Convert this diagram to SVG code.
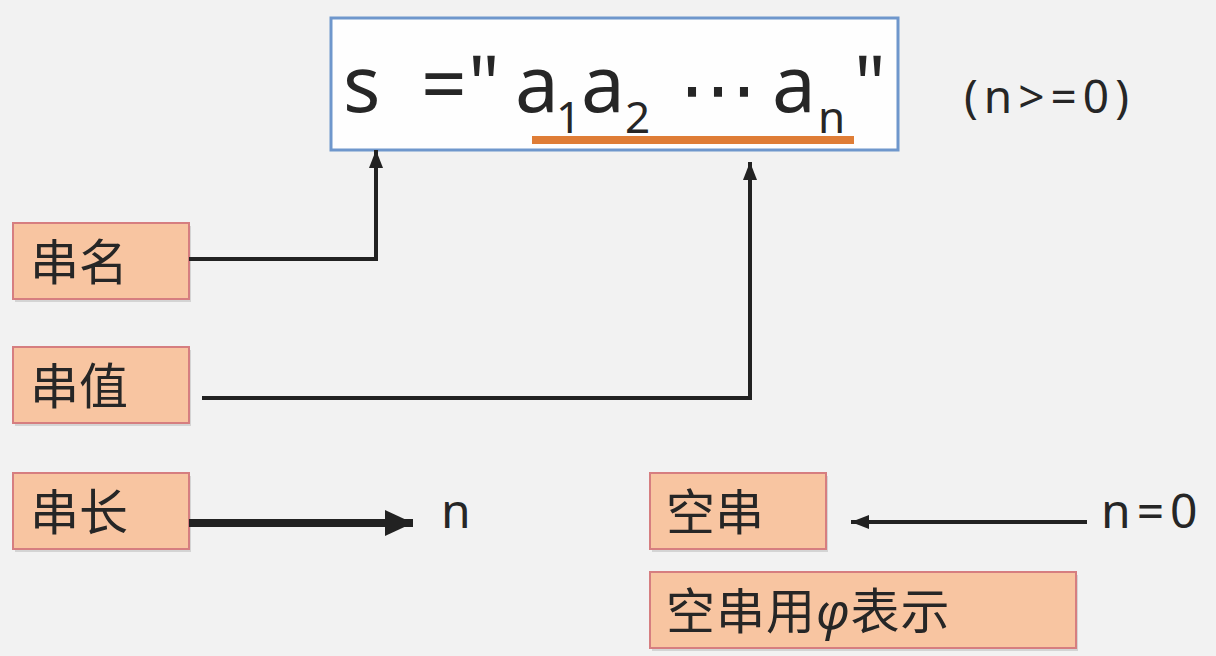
<svg xmlns="http://www.w3.org/2000/svg" width="1216" height="656" viewBox="0 0 1216 656">
<style>
.lat{font-family:"Noto Sans","Open Sans",sans-serif;fill:#262626}
.cjk{font-family:"Noto Sans","Noto Sans CJK SC",sans-serif;fill:#262626;font-size:49px}
.box{fill:#f8c5a1;stroke:#d67e80;stroke-width:2}
.shd{fill:#000;opacity:0.12}
.ln{fill:none;stroke:#222;stroke-width:4}
.thick{stroke-width:8}
</style>
<defs>
<marker id="ah" markerUnits="userSpaceOnUse" markerWidth="20" markerHeight="20" viewBox="0 0 20 20" refX="18" refY="10" orient="auto">
<path d="M0,3 L18,10 L0,17 Z" fill="#222"/>
</marker>
<marker id="ahb" markerUnits="userSpaceOnUse" markerWidth="30" markerHeight="30" viewBox="0 0 30 30" refX="28" refY="15" orient="auto">
<path d="M0,2 L28,15 L0,28 Z" fill="#222"/>
</marker>
</defs>
<rect width="1216" height="656" fill="#f2f2f2"/>

<g id="formula">
<rect x="331" y="18" width="567" height="132" fill="#fefefe" stroke="#6f97cc" stroke-width="3"/>
<text class="lat" x="343" y="112" font-size="78">s</text>
<text class="lat" x="421" y="112" font-size="80">=</text>
<text class="lat" x="468" y="112" font-size="78">"</text>
<text class="lat" x="515" y="112" font-size="78">a</text>
<text class="lat" x="556" y="133" font-size="44">1</text>
<text class="lat" x="581" y="112" font-size="78">a</text>
<text class="lat" x="625" y="133" font-size="44">2</text>
<text x="679" y="116" font-size="78" style="font-family:'DejaVu Sans',sans-serif;fill:#262626">⋯</text>
<text class="lat" x="772" y="112" font-size="78">a</text>
<text class="lat" x="818" y="133" font-size="44">n</text>
<text class="lat" x="854" y="112" font-size="78">"</text>
<rect x="532" y="136" width="322" height="8" fill="#df7d36"/>
</g>

<g id="cond">
<text class="lat" x="964" y="113" font-size="46" letter-spacing="6">(n&gt;=0)</text>
</g>

<g id="name">
<rect class="shd" x="15" y="226" width="176" height="76"/>
<rect class="box" x="13" y="223" width="176" height="76"/>
<text class="cjk" x="30" y="280">串名</text>
</g>
<g id="value">
<rect class="shd" x="15" y="350" width="176" height="76"/>
<rect class="box" x="13" y="347" width="176" height="76"/>
<text class="cjk" x="30" y="404">串值</text>
</g>
<g id="length">
<rect class="shd" x="15" y="476" width="176" height="76"/>
<rect class="box" x="13" y="473" width="176" height="76"/>
<text class="cjk" x="30" y="530">串长</text>
</g>
<g id="n">
<text class="lat" x="441" y="528" font-size="48">n</text>
</g>
<g id="empty">
<rect class="shd" x="652" y="476" width="176" height="76"/>
<rect class="box" x="650" y="473" width="176" height="76"/>
<text class="cjk" x="666" y="530">空串</text>
</g>
<g id="n0">
<text class="lat" x="1101" y="528" font-size="48" letter-spacing="6">n=0</text>
</g>
<g id="emptysym">
<rect class="shd" x="652" y="575" width="426" height="76"/>
<rect class="box" x="650" y="572" width="426" height="76"/>
<text class="cjk" x="666" y="629" letter-spacing="1">空串用<tspan style="font-style:italic">φ</tspan>表示</text>
</g>

<g id="connectors">
<path class="ln" d="M189,259 H376 V150" marker-end="url(#ah)"/>
<path class="ln" d="M202,398 H750 V162" marker-end="url(#ah)"/>
<path class="ln thick" d="M189,523 H413" marker-end="url(#ahb)"/>
<path class="ln" d="M1087,522 H851" marker-end="url(#ah)"/>
</g>
</svg>
